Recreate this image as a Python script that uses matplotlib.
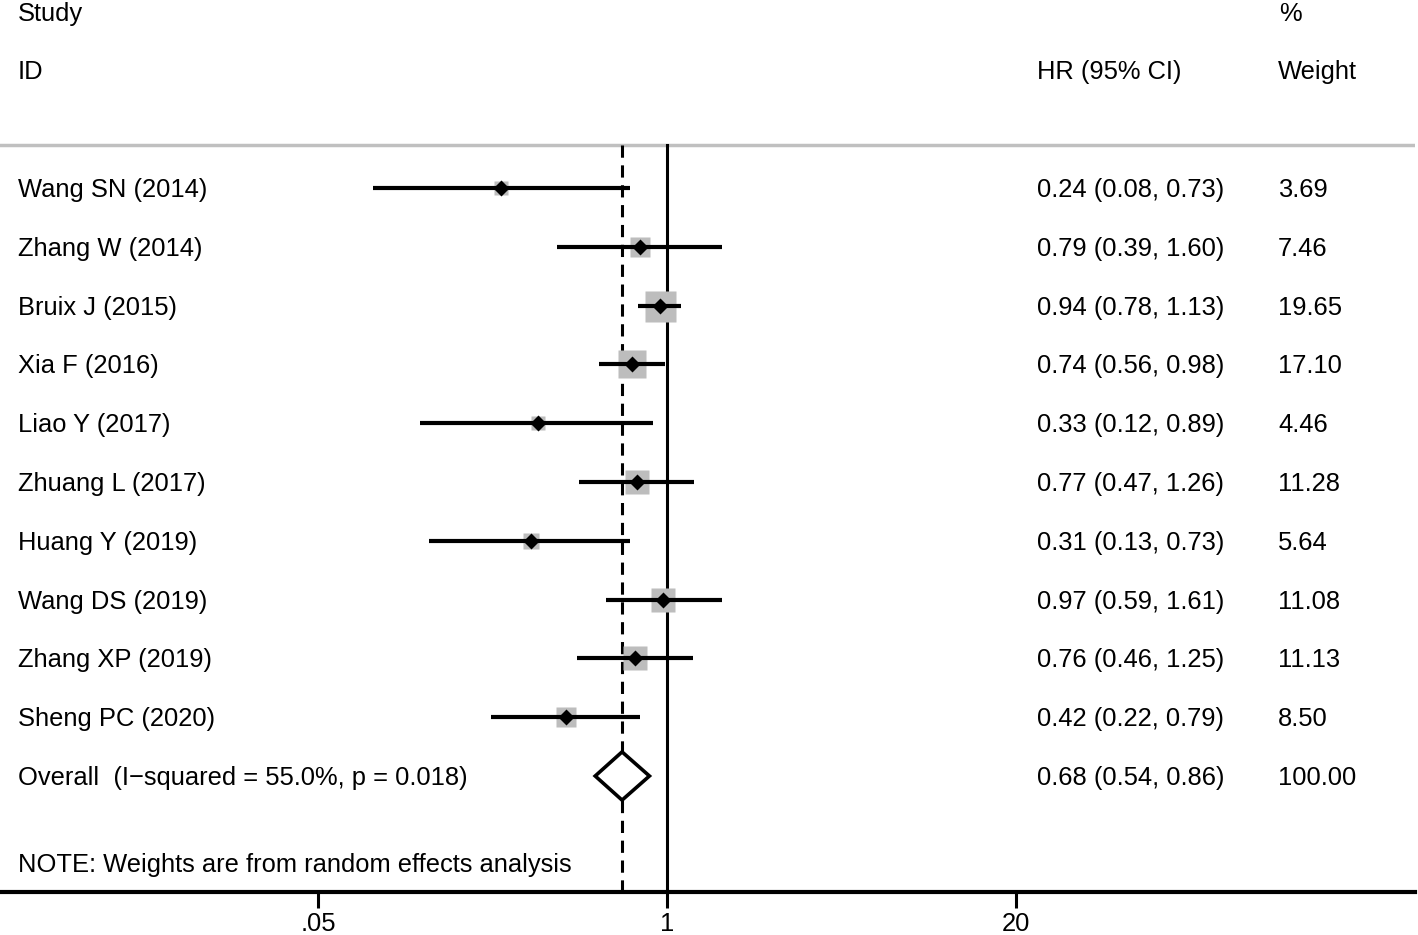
import matplotlib
matplotlib.use("Agg")
import matplotlib.pyplot as plt
import numpy as np

# data
studies = ["Wang SN (2014)", "Zhang W (2014)", "Bruix J (2015)", "Xia F (2016)",
           "Liao Y (2017)", "Zhuang L (2017)", "Huang Y (2019)", "Wang DS (2019)",
           "Zhang XP (2019)", "Sheng PC (2020)"]
hr = [0.24, 0.79, 0.94, 0.74, 0.33, 0.77, 0.31, 0.97, 0.76, 0.42]
lo = [0.08, 0.39, 0.78, 0.56, 0.12, 0.47, 0.13, 0.59, 0.46, 0.22]
hi = [0.73, 1.60, 1.13, 0.98, 0.89, 1.26, 0.73, 1.61, 1.25, 0.79]
weights = [3.69, 7.46, 19.65, 17.10, 4.46, 11.28, 5.64, 11.08, 11.13, 8.50]

overall_label = "Overall  (I\u2212squared = 55.0%, p = 0.018)"
overall = 0.68
overall_lo = 0.54
overall_hi = 0.86
overall_w = "100.00"

xticks = [0.05, 1, 20]
xticklabels = [".05", "1", "20"]

plt.rcParams['font.family'] = ['Liberation Sans', 'DejaVu Sans']
fs = 18.4

W, H = 1418, 935
fig = plt.figure(figsize=(W / 100, H / 100), dpi=100)
ax = fig.add_axes([0, (H - 892) / H, 1415 / W, 892 / H])

# px = 667 + 268.3*log10(x)
ax.set_xscale('log')
ax.set_xlim(10 ** (-667 / 268.3), 10 ** ((1415 - 667) / 268.3))
row_h = 58.8
ax.set_ylim((892 - 188) / row_h, -188 / row_h)

n = len(studies)
rows = np.arange(n)
dt = 2 / row_h  # small text offset

# grey weight boxes
for i in range(n):
    side = 31 * np.sqrt(weights[i] / max(weights)) * 0.72
    ax.plot(hr[i], rows[i], marker='s', ms=max(side, 10.5), color='#bdbdbd', mec='none', zorder=2)

# confidence intervals
for i in range(n):
    ax.plot([lo[i], hi[i]], [rows[i], rows[i]], color='black', lw=3.0,
            solid_capstyle='butt', zorder=3)
ax.plot(hr, rows, 'D', color='black', ms=8.5, mec='none', zorder=4)

# reference lines
top = -0.73
ax.plot([1, 1], [top, ax.get_ylim()[0]], color='black', lw=2.2, zorder=1)
ax.plot([overall, overall], [top, ax.get_ylim()[0]], color='black', lw=2.2,
        dashes=(4, 2.5), zorder=1)

# overall diamond
oy = n
dh = 0.41
ax.fill([overall_lo, overall, overall_hi, overall, overall_lo],
        [oy, oy - dh, oy, oy + dh, oy], facecolor='white', edgecolor='black',
        lw=2.6, zorder=5)

# header separator
ax.axhline(top, color='#c0c0c0', lw=2.5, zorder=0)

# texts
tr = ax.get_yaxis_transform()
xl, xhr, xw = 18 / 1415, 1037 / 1415, 1278 / 1415
ax.text(xl, -3.0 + dt, "Study", transform=tr, fontsize=fs, va='center')
ax.text(xl, -2.0 + dt, "ID", transform=tr, fontsize=fs, va='center')
ax.text(xhr, -2.0 + dt, "HR (95% CI)", transform=tr, fontsize=fs, va='center')
ax.text(1279 / 1415, -3.0 + dt, "%", transform=tr, fontsize=fs, va='center')
ax.text(xw, -2.0 + dt, "Weight", transform=tr, fontsize=fs, va='center')

for i in range(n):
    ax.text(xl, rows[i] + dt, studies[i], transform=tr, fontsize=fs, va='center')
    ax.text(xhr, rows[i] + dt, "%.2f (%.2f, %.2f)" % (hr[i], lo[i], hi[i]),
            transform=tr, fontsize=fs, va='center')
    ax.text(xw, rows[i] + dt, "%.2f" % weights[i], transform=tr, fontsize=fs, va='center')

ax.text(xl, oy + dt, overall_label, transform=tr, fontsize=fs, va='center')
ax.text(xhr, oy + dt, "%.2f (%.2f, %.2f)" % (overall, overall_lo, overall_hi),
        transform=tr, fontsize=fs, va='center')
ax.text(xw, oy + dt, overall_w, transform=tr, fontsize=fs, va='center')
ax.text(xl, (863 - 188) / row_h + dt, "NOTE: Weights are from random effects analysis",
        transform=tr, fontsize=fs, va='center')

# axis
for s in ['top', 'left', 'right']:
    ax.spines[s].set_visible(False)
ax.spines['bottom'].set_linewidth(3)
ax.set_yticks([])
ax.set_xticks(xticks)
ax.set_xticklabels(xticklabels, fontsize=fs)
ax.xaxis.set_minor_locator(matplotlib.ticker.NullLocator())
ax.tick_params(axis='x', length=11.5, width=2.2, pad=3)

fig.savefig("out.png", dpi=100)
